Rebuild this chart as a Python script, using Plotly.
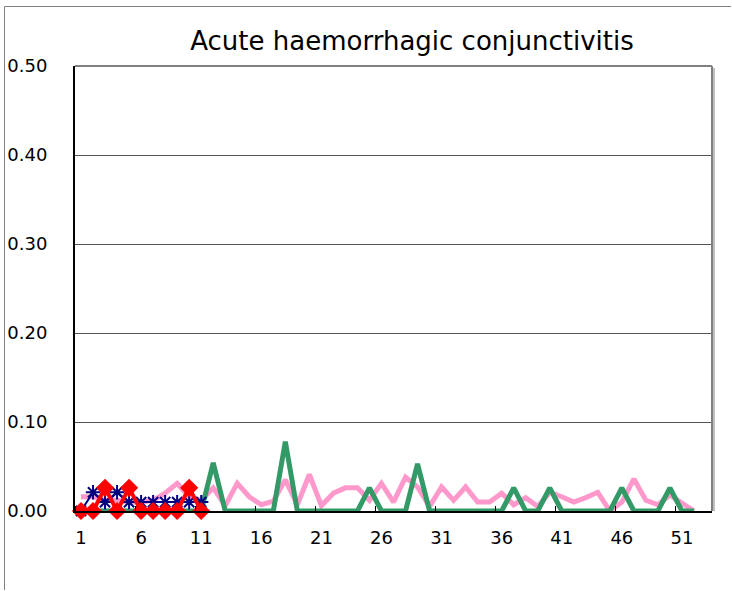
import plotly.graph_objects as go

weeks = list(range(1, 53))
weeks_cur = list(range(1, 12))

pink_vals = [0.016, 0.016, 0.012, 0.012, 0.010, 0.010, 0.012, 0.020, 0.031, 0.016,
             0.012, 0.026, 0.006, 0.031, 0.016, 0.007, 0.011, 0.035, 0.007, 0.041,
             0.006, 0.020, 0.026, 0.026, 0.012, 0.031, 0.010, 0.038, 0.027, 0.005,
             0.027, 0.012, 0.027, 0.010, 0.010, 0.020, 0.007, 0.015, 0.005, 0.021,
             0.016, 0.010, 0.015, 0.021, 0.000, 0.010, 0.036, 0.012, 0.007, 0.018,
             0.009, 0.000]

green_vals = [0, 0, 0, 0, 0, 0, 0, 0, 0, 0,
              0, 0.054, 0, 0, 0, 0, 0, 0.078, 0, 0,
              0, 0, 0, 0, 0.026, 0, 0, 0, 0.053, 0,
              0, 0, 0, 0, 0, 0, 0.026, 0, 0, 0.026,
              0, 0, 0, 0, 0, 0.026, 0, 0, 0, 0.026,
              0, 0]

navy_vals = [0.0, 0.021, 0.010, 0.021, 0.010, 0.010, 0.010, 0.010, 0.010, 0.010, 0.010]
red_vals = [0.0, 0.0, 0.026, 0.0, 0.026, 0.0, 0.0, 0.0, 0.0, 0.026, 0.0]

y_ticks = [0.0, 0.1, 0.2, 0.3, 0.4, 0.5]
y_tick_text = ["0.00", "0.10", "0.20", "0.30", "0.40", "0.50"]
x_ticks = [1, 6, 11, 16, 21, 26, 31, 36, 41, 46, 51]
title_text = "Acute haemorrhagic conjunctivitis"

FONT = "DejaVu Sans"

fig = go.Figure()
fig.add_trace(go.Scatter(x=weeks, y=pink_vals, mode="lines",
                         line=dict(color="#FF99CC", width=5), showlegend=False,
                         cliponaxis=False))
fig.add_trace(go.Scatter(x=weeks, y=green_vals, mode="lines",
                         line=dict(color="#339966", width=5), showlegend=False,
                         cliponaxis=False))
fig.add_trace(go.Scatter(x=weeks_cur, y=navy_vals, mode="lines+markers",
                         line=dict(color="#000080", width=2),
                         marker=dict(symbol="asterisk-open", size=12,
                                     line=dict(color="#000080", width=2)),
                         showlegend=False, cliponaxis=False))
fig.add_trace(go.Scatter(x=weeks_cur, y=red_vals, mode="lines+markers",
                         line=dict(color="#FF0000", width=4),
                         marker=dict(symbol="diamond", size=14, color="#FF0000"),
                         showlegend=False, cliponaxis=False))

L, R, T, B = 75, 20, 66, 80
W, H = 732, 591
pw, ph = W - L - R, H - T - B

def px_x(p):
    return (p - L) / pw

def px_y(p):
    return (H - B - p) / ph

# outer chart frame (left and top edges)
fig.add_shape(type="line", xref="paper", yref="paper",
              x0=px_x(4.5), x1=px_x(731), y0=px_y(6.5), y1=px_y(6.5),
              line=dict(color="#808080", width=1))
fig.add_shape(type="line", xref="paper", yref="paper",
              x0=px_x(4.5), x1=px_x(4.5), y0=px_y(6.5), y1=px_y(590),
              line=dict(color="#808080", width=1))
# plot area frame (top/right gray)
fig.add_shape(type="line", xref="paper", yref="paper",
              x0=0, x1=1, y0=1, y1=1, line=dict(color="#808080", width=2))
fig.add_shape(type="line", xref="paper", yref="paper",
              x0=1, x1=1, y0=0, y1=1, line=dict(color="#808080", width=2))
fig.add_shape(type="line", xref="paper", yref="paper",
              x0=px_x(714), x1=px_x(714), y0=px_y(511), y1=px_y(68),
              line=dict(color="#C0C0C0", width=2))

fig.update_layout(
    width=W, height=H,
    margin=dict(l=L, r=R, t=T, b=B, autoexpand=False),
    paper_bgcolor="white", plot_bgcolor="white",
    font=dict(family=FONT, color="black", size=18),
    title=dict(text=title_text, x=px_x(412), xref="paper", xanchor="center",
               y=1 - 41 / H, yanchor="middle",
               font=dict(family=FONT, size=26, color="black")),
    xaxis=dict(range=[0.5, 53.5], tickmode="array", tickvals=x_ticks,
               ticks="", showgrid=False, zeroline=False, automargin=False,
               showline=True, linecolor="black", linewidth=2,
               ticklabelstandoff=9,
               minor=dict(tickmode="linear", tick0=0.5, dtick=5, ticks="inside",
                          ticklen=5, tickcolor="black", showgrid=False),
               tickfont=dict(size=18)),
    yaxis=dict(range=[0, 0.5], tickmode="array", tickvals=y_ticks,
               ticktext=y_tick_text, ticks="", showgrid=True, automargin=False,
               gridcolor="#555555", gridwidth=1, zeroline=False,
               showline=True, linecolor="black", linewidth=2,
               ticklabelstandoff=22, tickfont=dict(size=18)),
)

fig.write_html("out.html", config={"displayModeBar": False},
               post_script="document.body.style.margin='0';")
